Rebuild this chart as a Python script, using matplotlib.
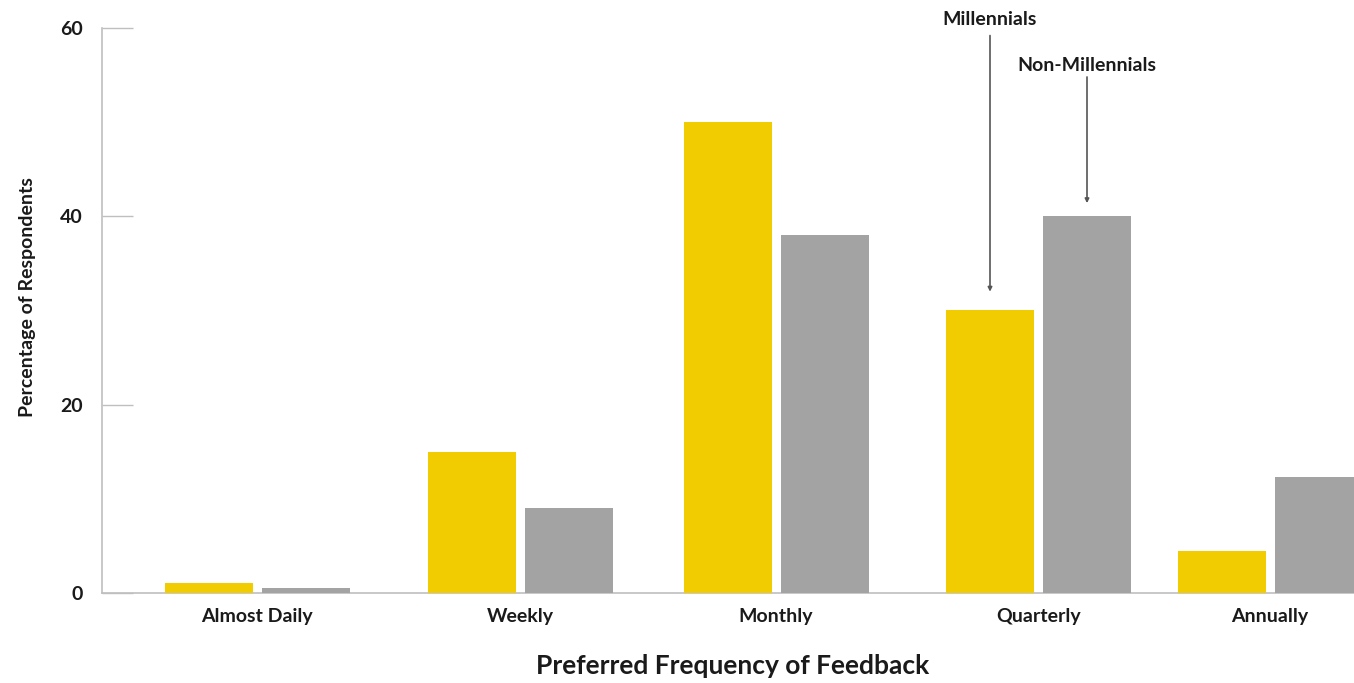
import matplotlib
matplotlib.use("Agg")
import matplotlib.pyplot as plt

# Survey results: preferred frequency of performance feedback
categories = ["Almost Daily", "Weekly", "Monthly", "Quarterly", "Annually"]
millennials = [1.1, 15.0, 50.0, 30.0, 4.5]
non_millennials = [0.5, 9.0, 38.0, 40.0, 12.3]
y_ticks = [0, 20, 40, 60]

# Layout: group centres along the x axis (axis units = pixels of plot width)
group_centers = [155, 418.5, 674, 936.5, 1168]
bar_width = 88
offset = 48.5

YELLOW = "#F0CC00"
GREY = "#A3A3A4"
AXIS = "#BFBFBF"
TEXT = "#1a1a1a"
WEIGHT = "bold"

plt.rcParams["font.family"] = ["Lato", "DejaVu Sans"]

W, H = 1354, 683
fig = plt.figure(figsize=(W / 100, H / 100), dpi=100)
ax = fig.add_axes([102 / W, (H - 593) / H, (W - 102) / W, (593 - 28) / H])

xm = [c - offset for c in group_centers]
xn = [c + offset for c in group_centers]
ax.bar(xm, millennials, width=bar_width, color=YELLOW, zorder=2)
ax.bar(xn, non_millennials, width=bar_width, color=GREY, zorder=2)

ax.set_xlim(0, W - 102)
ax.set_ylim(0, 60)
ax.set_yticks(y_ticks)
ax.set_yticklabels([str(t) for t in y_ticks])
ax.set_xticks(group_centers)
ax.set_xticklabels(categories)

for s in ["top", "right"]:
    ax.spines[s].set_visible(False)
for s in ["left", "bottom"]:
    ax.spines[s].set_color(AXIS)
    ax.spines[s].set_linewidth(1.2)
    ax.spines[s].set_zorder(1)

ax.tick_params(axis="y", direction="in", length=22, width=1.0, color=AXIS,
               pad=14, labelsize=14, labelcolor=TEXT)
ax.tick_params(axis="x", length=0, pad=11, labelsize=14, labelcolor=TEXT)
for lab in ax.get_xticklabels() + ax.get_yticklabels():
    lab.set_fontweight(WEIGHT)

fig.text(0.5 * (536 + 929) / W, 1 - 666 / H, "Preferred Frequency of Feedback",
         ha="center", va="center", fontsize=19, fontweight=WEIGHT, color=TEXT)
fig.text(28 / W, 1 - 297 / H, "Percentage of Respondents", rotation=90,
         ha="center", va="center", fontsize=14, fontweight=WEIGHT, color=TEXT)

# Series callouts pointing at the Quarterly bars
arrow = dict(arrowstyle="-|>", color="#555555", lw=1.2, mutation_scale=6,
             shrinkA=0, shrinkB=0)
q = categories.index("Quarterly")
callouts = [
    ("Millennials", xm[q], millennials[q], 60.85, 59.2, 2.0),
    ("Non-Millennials", xn[q], non_millennials[q], 56.05, 54.8, 1.4),
]
for label, x, value, y_text, y_start, gap in callouts:
    ax.text(x, y_text, label, ha="center", va="center", fontsize=14,
            fontweight=WEIGHT, color=TEXT, clip_on=False)
    ax.annotate("", xy=(x, value + gap), xytext=(x, y_start),
                arrowprops=arrow, annotation_clip=False)

fig.savefig("out.png", dpi=100)
